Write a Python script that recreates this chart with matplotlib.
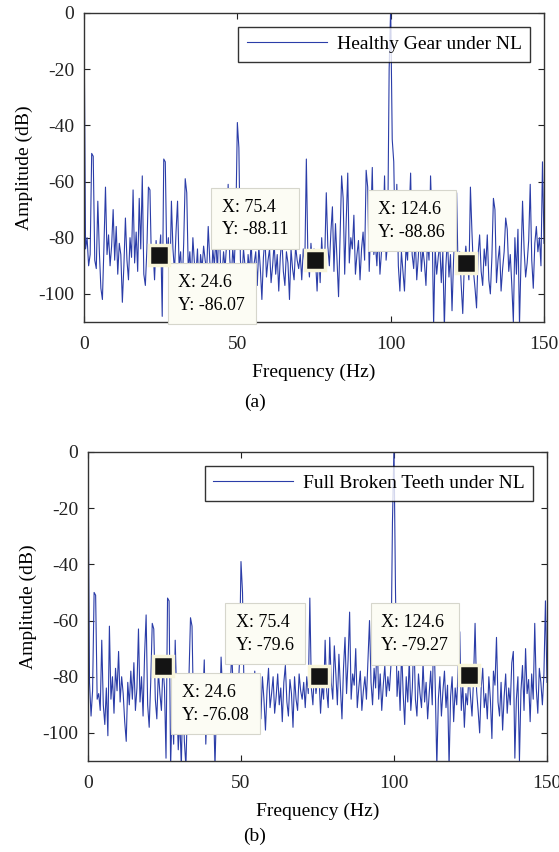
## 两个齿轮状态的频谱图 (a) 健康齿轮 (b) 断齿
import matplotlib
matplotlib.use('Agg')
import matplotlib.pyplot as plt
import numpy as np

plt.rcParams['font.family'] = ['Liberation Serif', 'DejaVu Serif']
plt.rcParams['axes.unicode_minus'] = False

# 频率轴: 0 ~ 150 Hz, 步长 0.5 Hz
freq = np.arange(0, 150.5, 0.5)

# (a) Healthy Gear under NL, 幅值 (dB), 每行 10 Hz
amp_a = [
    0, -84, -80, -90, -86, -50, -51, -88, -91, -67, -85, -98, -102, -83, -62, -86, -79, -90, -83, -70,
    -88, -76, -93, -82, -86, -103, -90, -73, -88, -95, -80, -87, -63, -89, -78, -92, -66, -84, -58, -93,
    -97, -84, -62, -63, -90, -84, -95, -81, -89, -86, -79, -108, -52, -53, -88, -80, -96, -67, -84, -92,
    -78, -67, -90, -85, -98, -82, -59, -64, -92, -85, -95, -80, -89, -93, -84, -99, -86, -91, -83, -88,
    -92, -76, -88, -97, -84, -90, -80, -93, -72, -89, -94, -85, -91, -82, -61, -87, -95, -84, -90, -74,
    -39, -48, -88, -95, -84, -90, -100, -86, -92, -81, -96, -89, -85, -97, -83, -91, -102, -87, -80, -94,
    -88, -84, -96, -90, -82, -93, -86, -99, -87, -80, -92, -97, -85, -89, -102, -84, -91, -95, -83, -88,
    -91, -86, -95, -84, -89, -52, -87, -94, -82, -90, -84, -88, -99, -85, -96, -80, -91, -87, -64, -83,
    -90, -78, -69, -92, -75, -88, -101, -80, -58, -66, -93, -74, -57, -89, -80, -84, -72, -93, -86, -81,
    -95, -84, -78, -88, -56, -62, -92, -75, -55, -86, -82, -90, -77, -93, -85, -80, -58, -88, -82, -20,
    2, -45, -53, -84, -61, -90, -99, -85, -92, -99, -83, -88, -72, -57, -86, -91, -80, -95, -87, -76,
    -92, -84, -89, -97, -81, -88, -58, -75, -111, -84, -93, -87, -82, -96, -85, -112, -90, -80, -94, -86,
    -106, -88, -77, -64, -93, -85, -97, -107, -90, -83, -89, -95, -62, -78, -92, -98, -105, -86, -79, -92,
    -97, -84, -90, -79, -95, -100, -87, -66, -70, -96, -88, -83, -99, -91, -85, -73, -77, -92, -86, -97,
    -110, -80, -93, -77, -111, -88, -67, -84, -94, -89, -81, -61, -88, -98, -82, -76, -85, -80, -90, -53,
    -82,
]

# (b) Full Broken Teeth under NL
amp_b = [
    0, -82, -94, -85, -50, -51, -88, -86, -92, -67, -90, -97, -84, -101, -62, -88, -80, -93, -77, -85,
    -71, -89, -80, -86, -96, -103, -82, -90, -78, -88, -75, -92, -84, -63, -89, -80, -94, -72, -58, -90,
    -98, -82, -61, -63, -88, -95, -78, -86, -92, -76, -84, -109, -52, -53, -112, -90, -104, -67, -88, -106,
    -95, -112, -84, -103, -112, -90, -80, -59, -62, -94, -86, -100, -88, -83, -96, -89, -74, -104, -87, -92,
    -84, -98, -88, -112, -90, -79, -95, -73, -86, -93, -81, -89, -96, -84, -70, -88, -92, -80, -87, -75,
    -39, -50, -86, -92, -81, -89, -97, -84, -90, -78, -94, -86, -82, -95, -80, -88, -99, -85, -77, -91,
    -86, -80, -93, -87, -79, -90, -84, -96, -82, -76, -89, -94, -81, -86, -98, -80, -88, -92, -79, -85,
    -88, -82, -91, -80, -86, -52, -84, -90, -77, -86, -81, -80, -93, -83, -88, -67, -85, -91, -66, -82,
    -88, -69, -79, -90, -72, -84, -95, -77, -66, -86, -74, -57, -88, -79, -83, -70, -91, -84, -78, -92,
    -85, -80, -88, -74, -60, -82, -90, -77, -84, -65, -88, -79, -92, -83, -76, -87, -80, -85, -76, -25,
    2, -50, -87, -78, -92, -70, -86, -97, -80, -89, -74, -92, -84, -65, -88, -94, -79, -86, -91, -75,
    -89, -82, -95, -86, -78, -90, -62, -84, -112, -88, -80, -94, -85, -78, -91, -83, -112, -87, -80, -96,
    -84, -90, -76, -64, -92, -83, -98, -86, -90, -79, -87, -94, -81, -61, -85, -92, -100, -84, -77, -91,
    -86, -95, -80, -88, -102, -78, -83, -66, -89, -94, -82, -99, -87, -79, -93, -84, -90, -75, -71, -109,
    -88, -80, -110, -85, -76, -92, -70, -86, -81, -96, -79, -88, -61, -84, -93, -77, -82, -90, -79, -53,
    -82,
]

# 数据提示点 (data tips)
tip_x = [24.6, 75.4, 124.6]
tip_y_a = [-86.07, -88.11, -88.86]
tip_y_b = [-76.08, -79.6, -79.27]

line_color = '#2B3DA8'
fs = 14

fig = plt.figure(figsize=(5.59, 8.52), dpi=100)
ax_a = fig.add_axes([0.1503, 0.6221, 0.8229, 0.3627])
ax_b = fig.add_axes([0.1574, 0.1068, 0.8211, 0.3627])


def draw_panel(ax, amp, tip_y, label, tag, tag_y, offsets):
    ax.plot(freq, amp, color=line_color, lw=0.8, label=label, zorder=2)
    ax.set_xlim(0, 150)
    ax.set_ylim(-110, 0)
    ax.set_xticks([0, 50, 100, 150])
    ax.set_yticks([0, -20, -40, -60, -80, -100])
    ax.tick_params(direction='in', top=True, right=True, labelsize=fs,
                   length=4, width=0.8, colors='#222222')
    ax.tick_params(axis='x', pad=10)
    ax.tick_params(axis='y', pad=7)
    for s in ax.spines.values():
        s.set_color('#333333')
        s.set_linewidth(1.0)
    ax.set_xlabel('Frequency (Hz)', fontsize=fs, labelpad=8)
    ax.set_ylabel('Amplitude (dB)', fontsize=fs, labelpad=4)

    leg = ax.legend(loc='upper right', fontsize=fs, frameon=True, fancybox=False,
                    handlelength=4.1, borderaxespad=0.7, borderpad=0.45,
                    handletextpad=0.5)
    leg.get_frame().set_edgecolor('black')
    leg.get_frame().set_linewidth(1.0)
    leg.set_zorder(6)

    # 数据提示: 方块标记 + 文本框
    ax.plot(tip_x, tip_y, ls='none', marker='s', ms=14, mfc='#141414',
            mec='#F8F5DA', mew=2.5, zorder=5, clip_on=False)
    for x, y, (off, ha, va) in zip(tip_x, tip_y, offsets):
        ax.annotate(f'X: {x:g}\nY: {y:g}', xy=(x, y), xytext=off,
                    textcoords='offset pixels', ha=ha, va=va, fontsize=13,
                    multialignment='left', linespacing=1.45, zorder=4,
                    bbox=dict(boxstyle='square,pad=0.6', fc='#FCFCF4',
                              ec='#D6D6CC', lw=0.8))

    fig.text(255 / 559, tag_y, tag, ha='center', va='center', fontsize=fs)


off_a = [((19, -19), 'left', 'top'),
         ((-27, 22), 'right', 'bottom'),
         ((-21, 22), 'right', 'bottom')]
off_b = [((19, -18), 'left', 'top'),
         ((-25, 22), 'right', 'bottom'),
         ((-21, 21), 'right', 'bottom')]

draw_panel(ax_a, amp_a, tip_y_a, 'Healthy Gear under NL', '(a)', 1 - 402 / 852, off_a)
draw_panel(ax_b, amp_b, tip_y_b, 'Full Broken Teeth under NL', '(b)', 1 - 836 / 852, off_b)

fig.savefig('out.png', dpi=100)
